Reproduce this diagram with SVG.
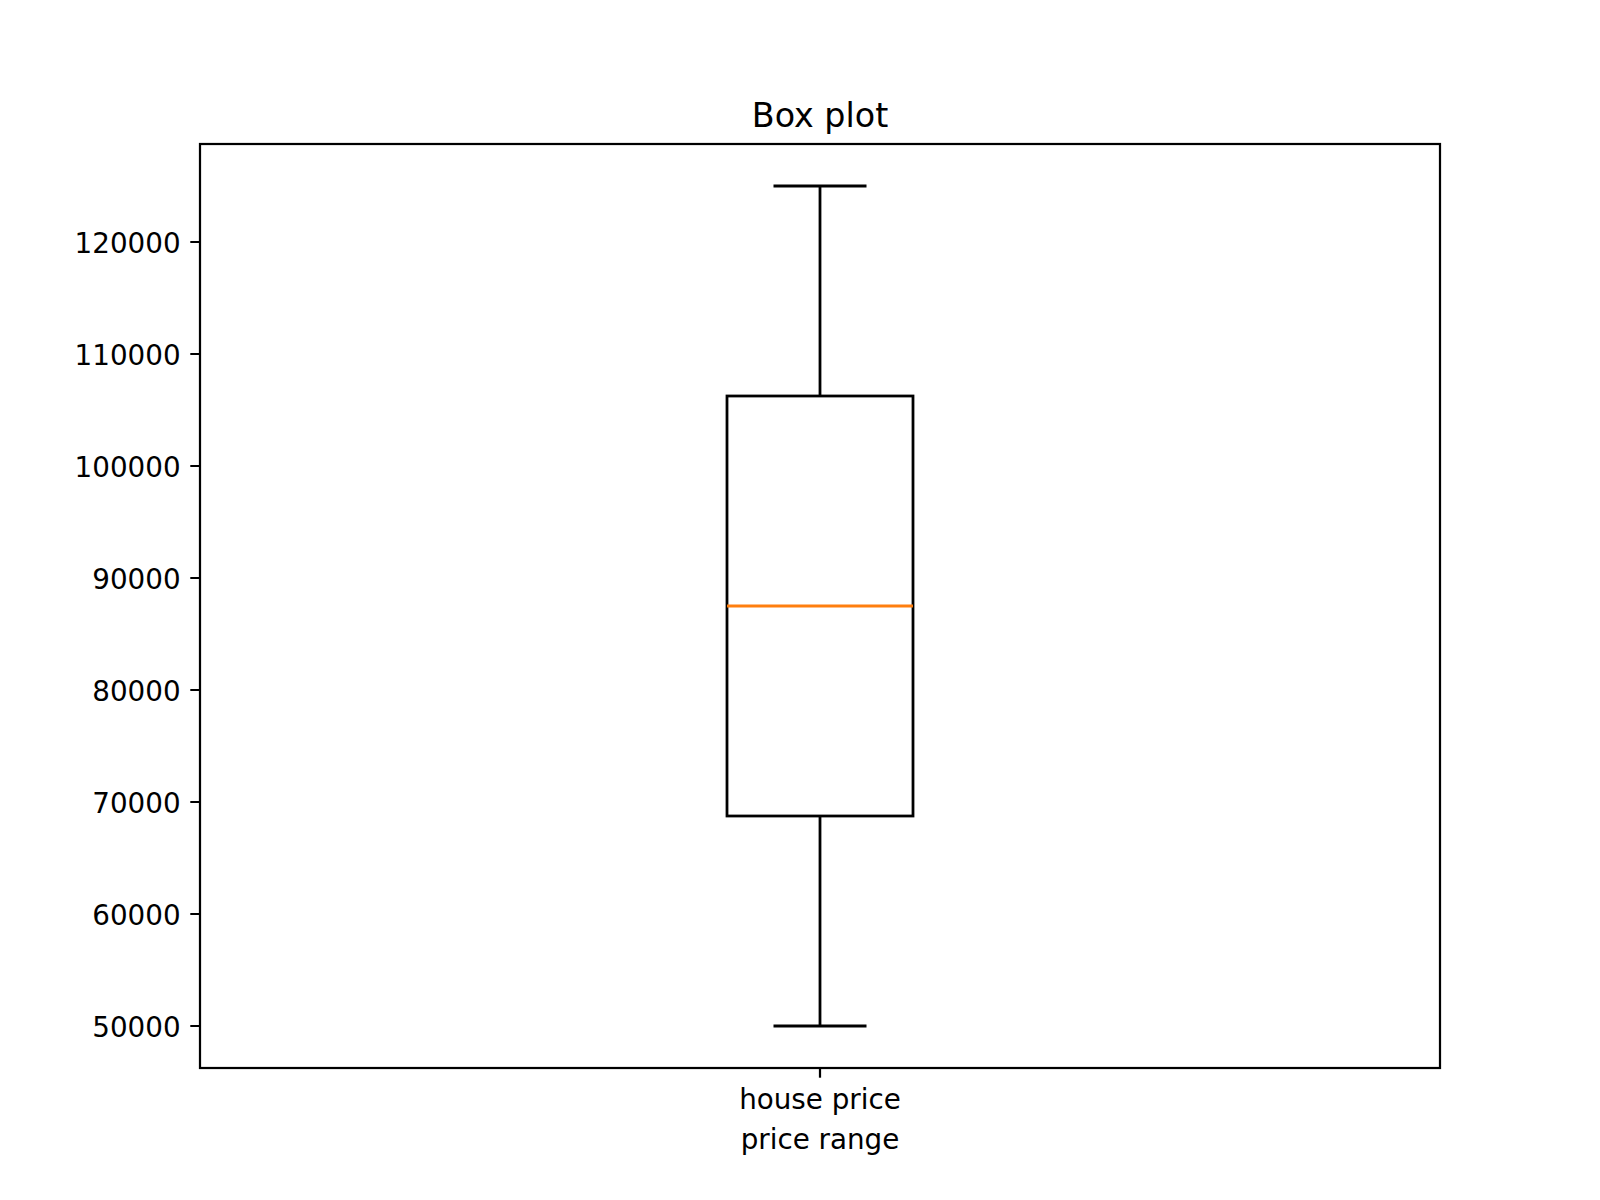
<svg xmlns="http://www.w3.org/2000/svg" width="1600" height="1200" viewBox="0 0 1600 1200">
<style>
.t{font-family:"DejaVu Sans",sans-serif;font-size:27.78px;fill:#000}
.yl{text-anchor:end}
.tk{stroke:#000;stroke-width:2.22;fill:none}
.bx{stroke:#000;stroke-width:2.78;fill:none}
</style>
<rect x="0" y="0" width="1600" height="1200" fill="#fff"/>
<g id="axes">
<rect x="200" y="144" width="1240" height="924" class="tk" stroke-linejoin="miter"/>
</g>
<g id="yticks">
<path class="tk" d="M190.3,1026H200M190.3,914H200M190.3,802H200M190.3,690H200M190.3,578H200M190.3,466H200M190.3,354H200M190.3,242H200"/>
<text class="t yl" x="180.6" y="1036.8">50000</text>
<text class="t yl" x="180.6" y="924.8">60000</text>
<text class="t yl" x="180.6" y="812.8">70000</text>
<text class="t yl" x="180.6" y="700.8">80000</text>
<text class="t yl" x="180.6" y="588.8">90000</text>
<text class="t yl" x="180.6" y="476.8">100000</text>
<text class="t yl" x="180.6" y="364.8">110000</text>
<text class="t yl" x="180.6" y="252.8">120000</text>
</g>
<g id="xticks">
<path class="tk" d="M820,1068V1077.7"/>
<text class="t" x="820" y="1108.5" text-anchor="middle">house price</text>
<text class="t" x="820" y="1148.5" text-anchor="middle">price range</text>
</g>
<g id="title">
<text class="t" x="820" y="127" text-anchor="middle" style="font-size:33.33px">Box plot</text>
</g>
<g id="boxplot">
<rect class="bx" x="727" y="396" width="186" height="420"/>
<path class="bx" d="M820,816V1026M820,396V186M773.5,1026H866.5M773.5,186H866.5"/>
<path d="M727,606H913" stroke="#ff7f0e" stroke-width="2.78"/>
</g>
</svg>
